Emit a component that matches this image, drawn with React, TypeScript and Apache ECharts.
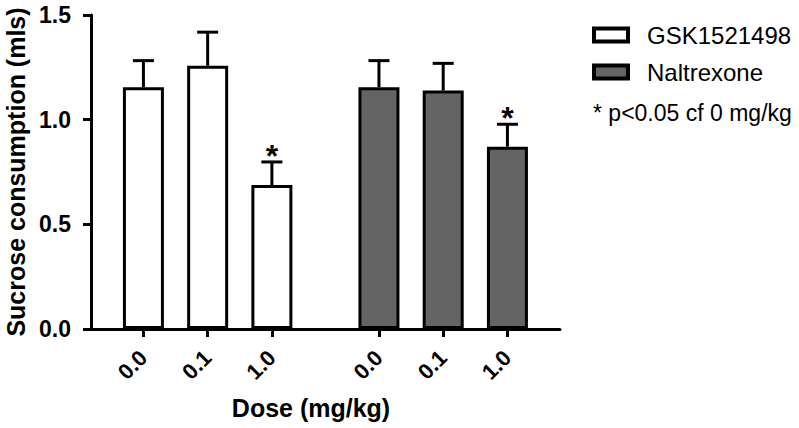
import React, { useEffect, useRef } from "react";
import * as echarts from "echarts";

const doseLabels = ["0.0", "0.1", "1.0"];
const seriesNames = ["GSK1521498", "Naltrexone"];
const gskMeans = [1.155, 1.257, 0.688];
const gskSem = [0.127, 0.161, 0.11];
const gskSig = [false, false, true];
const naltMeans = [1.155, 1.139, 0.871];
const naltSem = [0.127, 0.13, 0.107];
const naltSig = [false, false, true];
const gskPositions = [0, 1, 2];
const naltPositions = [11 / 3, 14 / 3, 17 / 3];
const yTickValues = [0, 0.5, 1.0, 1.5];
const yAxisTitle = "Sucrose consumption (mls)";
const xAxisTitle = "Dose (mg/kg)";
const footnote = "* p<0.05 cf 0 mg/kg";

const FONT = "'Liberation Sans', Arial, Helvetica, sans-serif";
const allPositions = [...gskPositions, ...naltPositions];

export default function App() {
  const ref = useRef<HTMLDivElement>(null);
  useEffect(() => {
    if (!ref.current) return;
    const chart = echarts.init(ref.current, null, { renderer: "svg" });

    const errData = (pos: number[], means: number[], sem: number[], sig: boolean[]) =>
      pos.map((p, i) => [p, means[i], means[i] + sem[i], sig[i] ? 1 : 0]);

    const renderErr = (params: any, api: any) => {
      const x = api.value(0);
      const m = api.value(1);
      const top = api.value(2);
      const sig = api.value(3);
      const p0 = api.coord([x, m]);
      const p1 = api.coord([x, top]);
      const style = { stroke: "#000", lineWidth: 3 };
      const children: any[] = [
        { type: "line", shape: { x1: p0[0], y1: p0[1], x2: p1[0], y2: p1[1] }, style },
        { type: "line", shape: { x1: p1[0] - 10.5, y1: p1[1], x2: p1[0] + 10.5, y2: p1[1] }, style },
      ];
      if (sig) {
        children.push({
          type: "text",
          x: p1[0],
          y: p1[1] - 6,
          style: {
            text: "*",
            fontSize: 32,
            fontWeight: "bold",
            fontFamily: FONT,
            fill: "#000",
            align: "center",
            verticalAlign: "middle",
          },
        });
      }
      return { type: "group", children };
    };

    const findIdx = (v: number) => allPositions.findIndex((p) => Math.abs(p - v) < 1e-6);

    chart.setOption({
      animation: false,
      grid: { left: 91, right: 239, top: 15, bottom: 99, containLabel: false, outerBoundsMode: "none" },
      legend: {
        orient: "vertical",
        left: 592,
        top: 23,
        padding: 0,
        itemWidth: 34,
        itemHeight: 13,
        itemGap: 13,
        icon: "rect",
        data: seriesNames,
        itemStyle: { borderWidth: 4 },
        textStyle: { fontSize: 24, fontFamily: FONT, color: "#000", lineHeight: 24, padding: [0, 0, 0, 14] },
      },
      xAxis: {
        type: "value",
        min: -0.816,
        max: 6.485,
        splitLine: { show: false },
        axisLine: { show: true, onZero: false, lineStyle: { color: "#000", width: 3 } },
        axisTick: { show: true, customValues: allPositions, length: 8, lineStyle: { color: "#000", width: 3 } },
        axisLabel: {
          customValues: allPositions,
          rotate: 45,
          margin: 25,
          fontSize: 22,
          fontWeight: "bold",
          fontFamily: FONT,
          color: "#000",
          formatter: (v: number) => {
            const i = findIdx(v);
            return i >= 0 ? doseLabels[i % doseLabels.length] : "";
          },
        },
      },
      yAxis: {
        type: "value",
        min: 0,
        max: 1.5,
        interval: 0.5,
        name: yAxisTitle,
        nameLocation: "middle",
        nameRotate: 90,
        nameGap: 63,
        nameTextStyle: { fontSize: 25, fontWeight: "bold", fontFamily: FONT, color: "#000" },
        splitLine: { show: false },
        axisLine: { show: true, onZero: false, lineStyle: { color: "#000", width: 3 } },
        axisTick: { show: true, length: 8, lineStyle: { color: "#000", width: 3 } },
        axisLabel: {
          customValues: yTickValues,
          margin: 20,
          fontSize: 23,
          fontWeight: "bold",
          fontFamily: FONT,
          color: "#000",
          formatter: (v: number) => v.toFixed(1),
        },
      },
      series: [
        {
          name: seriesNames[0],
          type: "bar",
          barWidth: 41,
          data: gskPositions.map((p, i) => [p, gskMeans[i]]),
          itemStyle: { color: "#ffffff", borderColor: "#000", borderWidth: 3 },
        },
        {
          name: seriesNames[1],
          type: "bar",
          barWidth: 41,
          barGap: "-100%",
          data: naltPositions.map((p, i) => [p, naltMeans[i]]),
          itemStyle: { color: "#646464", borderColor: "#000", borderWidth: 3 },
        },
        {
          type: "custom",
          z: 5,
          renderItem: renderErr,
          data: errData(gskPositions, gskMeans, gskSem, gskSig),
        },
        {
          type: "custom",
          z: 5,
          renderItem: renderErr,
          data: errData(naltPositions, naltMeans, naltSem, naltSig),
        },
      ],
      graphic: [
        {
          type: "text",
          x: 311,
          y: 408,
          style: {
            text: xAxisTitle,
            fontSize: 25,
            fontWeight: "bold",
            fontFamily: FONT,
            fill: "#000",
            align: "center",
            verticalAlign: "middle",
          },
        },
        {
          type: "text",
          x: 593,
          y: 113,
          style: {
            text: footnote,
            fontSize: 23,
            fontFamily: FONT,
            fill: "#000",
            align: "left",
            verticalAlign: "middle",
          },
        },
      ],
    });
    return () => chart.dispose();
  }, []);
  return (
    <div
      ref={ref}
      style={{ position: "fixed", left: 0, top: 0, width: 799, height: 428, background: "#fff" }}
    />
  );
}
